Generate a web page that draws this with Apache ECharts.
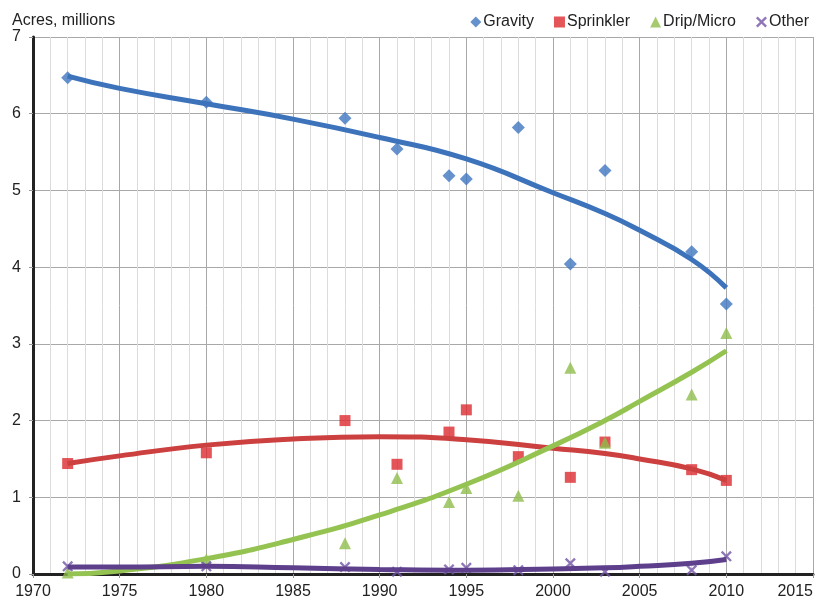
<!DOCTYPE html>
<html>
<head>
<meta charset="utf-8">
<script src="https://cdn.jsdelivr.net/npm/echarts@6/dist/echarts.min.js"></script>
<style>
html,body{margin:0;padding:0;background:#fff;}
#chart{width:820px;height:606px;}
</style>
</head>
<body>
<div id="chart"></div>
<script>
// Survey years and observed values (acres, millions)
var years = [1972, 1980, 1988, 1991, 1994, 1995, 1998, 2001, 2003, 2008, 2010];
var gravity = [6.47, 6.15, 5.94, 5.54, 5.19, 5.15, 5.82, 4.04, 5.26, 4.20, 3.52];
var sprinkler = [1.44, 1.58, 2.00, 1.43, 1.85, 2.14, 1.53, 1.26, 1.72, 1.36, 1.22];
var drip = [0.02, 0.19, 0.40, 1.25, 0.94, 1.12, 1.02, 2.69, 1.71, 2.34, 3.14];
var other = [0.10, 0.10, 0.09, 0.03, 0.06, 0.08, 0.05, 0.14, 0.03, 0.05, 0.23];

// Trendline values
var trendYears = [1972, 1975, 1980, 1985, 1990, 1995, 2000, 2003, 2005, 2008, 2010];
var gravityTrend = [6.49, 6.33, 6.13, 5.93, 5.69, 5.41, 4.97, 4.70, 4.48, 4.10, 3.73];
var sprinklerTrend = [1.44, 1.54, 1.68, 1.76, 1.79, 1.75, 1.64, 1.57, 1.50, 1.37, 1.22];
var dripTrend = [0.00, 0.04, 0.20, 0.45, 0.77, 1.17, 1.67, 2.00, 2.25, 2.63, 2.91];
var otherTrend = [0.09, 0.09, 0.10, 0.08, 0.06, 0.05, 0.065, 0.08, 0.10, 0.14, 0.19];

var seriesNames = ['Gravity', 'Sprinkler', 'Drip/Micro', 'Other'];
var yTitle = 'Acres, millions';

function pairs(xs, ys) { return xs.map(function (x, i) { return [x, ys[i]]; }); }

var xPath = 'path://M1.5,0 L5,3.5 L8.5,0 L10,1.5 L6.5,5 L10,8.5 L8.5,10 L5,6.5 L1.5,10 L0,8.5 L3.5,5 L0,1.5 Z';
var font = 'Liberation Sans, Arial, sans-serif';

var chart = echarts.init(document.getElementById('chart'));
chart.setOption({
  animation: false,
  backgroundColor: '#ffffff',
  textStyle: { fontFamily: font },
  title: {
    text: yTitle, left: 7, top: 8,
    textStyle: { fontSize: 16, fontWeight: 'normal', color: '#222', fontFamily: font }
  },
  legend: {
    data: seriesNames,
    right: 6, top: 9,
    itemWidth: 11, itemHeight: 11, itemGap: 20,
    textStyle: { fontSize: 16, color: '#222', fontFamily: font, padding: [0, 0, 0, -3] }
  },
  grid: { left: 33, right: 7, top: 37, bottom: 32, containLabel: false, outerBoundsMode: 'none' },
  xAxis: {
    type: 'value', min: 1970, max: 2015, interval: 5,
    axisLine: { show: true, onZero: false, lineStyle: { color: '#222', width: 3 } },
    axisTick: { show: true, length: 4, lineStyle: { color: '#999' } },
    axisLabel: { fontSize: 16, color: '#222', margin: 10, fontFamily: font, alignMaxLabel: 'right',
      formatter: function (v) { return String(v); } },
    splitLine: { show: true, lineStyle: { color: '#a8a8a8', width: 1 } },
    minorTick: { show: false, splitNumber: 5 },
    minorSplitLine: { show: true, lineStyle: { color: '#dcdcdc', width: 1 } }
  },
  yAxis: {
    type: 'value', min: 0, max: 7, interval: 1,
    axisLine: { show: true, lineStyle: { color: '#222', width: 3 } },
    axisTick: { show: true, length: 4, lineStyle: { color: '#999' } },
    axisLabel: { fontSize: 16, color: '#222', margin: 12, fontFamily: font },
    splitLine: { show: true, lineStyle: { color: '#a8a8a8', width: 1 } }
  },
  series: [
    { name: 'Gravity', type: 'scatter', symbol: 'diamond', symbolSize: 13, z: 3,
      itemStyle: { color: '#3e76bf' }, data: pairs(years, gravity) },
    { name: 'Sprinkler', type: 'scatter', symbol: 'rect', symbolSize: 11, z: 3,
      itemStyle: { color: '#dc2a2e' }, data: pairs(years, sprinkler) },
    { name: 'Drip/Micro', type: 'scatter', symbol: 'triangle', symbolSize: 12, z: 3,
      itemStyle: { color: '#8fbd4c' }, data: pairs(years, drip) },
    { name: 'Other', type: 'scatter', symbol: xPath, symbolSize: 11, z: 3,
      itemStyle: { color: '#7254a6' }, data: pairs(years, other) },

    { name: 'Gravity trend', type: 'line', smooth: true, showSymbol: false, symbol: 'none', z: 4,
      lineStyle: { color: '#3d73ba', width: 5 }, data: pairs(trendYears, gravityTrend) },
    { name: 'Sprinkler trend', type: 'line', smooth: true, showSymbol: false, symbol: 'none', z: 4,
      lineStyle: { color: '#cc4040', width: 5 }, data: pairs(trendYears, sprinklerTrend) },
    { name: 'Drip/Micro trend', type: 'line', smooth: true, showSymbol: false, symbol: 'none', z: 4,
      lineStyle: { color: '#94c351', width: 5 }, data: pairs(trendYears, dripTrend) },
    { name: 'Other trend', type: 'line', smooth: true, showSymbol: false, symbol: 'none', z: 4,
      lineStyle: { color: '#5d3f8c', width: 5 }, data: pairs(trendYears, otherTrend) }
  ]
});
</script>
</body>
</html>
